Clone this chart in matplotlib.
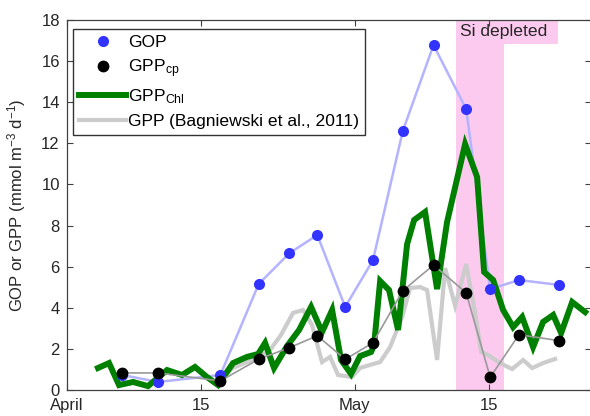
import matplotlib
matplotlib.use('Agg')
import matplotlib.pyplot as plt
from matplotlib.patches import Rectangle

plt.rcParams['font.family'] = ['Liberation Sans', 'DejaVu Sans']
plt.rcParams['mathtext.fontset'] = 'custom'
plt.rcParams['mathtext.rm'] = 'Liberation Sans'
plt.rcParams['mathtext.it'] = 'Liberation Sans:italic'

# days since 1 April
sample_days = [5.8, 9.5, 16.0, 20.0, 23.2, 26.1, 29.0, 31.9, 35.0, 38.2, 41.6, 44.1, 47.1, 51.3]
gop = [0.73, 0.39, 0.73, 5.16, 6.66, 7.54, 4.04, 6.32, 12.6, 16.78, 13.67, 4.91, 5.35, 5.11]
gpp_cp = [0.83, 0.83, 0.44, 1.50, 2.06, 2.64, 1.49, 2.30, 4.83, 6.08, 4.73, 0.62, 2.69, 2.40]

chl_days = [3.26, 4.41, 5.45, 6.91, 8.47, 10.45, 12.01, 13.36, 14.61, 15.76, 17.32, 18.78,
            19.93, 20.66, 21.59, 22.95, 24.20, 25.45, 26.59, 27.64, 28.57, 29.61, 30.55,
            31.70, 32.01, 32.64, 33.57, 34.51, 35.45, 36.18, 37.32, 38.57, 39.61, 41.49,
            42.74, 43.47, 44.41, 45.45, 46.49, 47.43, 48.57, 49.61, 50.66, 51.49, 52.64, 53.99]
gpp_chl = [1.07, 1.31, 0.24, 0.39, 0.19, 0.97, 0.73, 1.12, 0.63, 0.24, 1.31, 1.61,
           1.75, 2.29, 1.07, 2.14, 2.92, 4.04, 2.82, 3.89, 1.46, 0.78, 1.65,
           1.85, 2.19, 5.30, 4.86, 2.92, 7.10, 8.27, 8.66, 4.91, 8.17, 11.96,
           10.36, 5.74, 5.35, 3.89, 3.06, 3.55, 2.09, 3.31, 3.65, 2.77, 4.28, 3.79]

bag_days = [15.76, 17.32, 18.78, 19.93, 21.18, 22.32, 23.57, 24.61, 25.55, 26.59, 27.43,
            28.26, 29.72, 30.55, 31.59, 32.64, 33.68, 34.93, 35.76, 36.80, 37.53, 38.57,
            39.41, 40.45, 41.59, 42.43, 43.16, 43.89, 45.14, 46.39, 47.53, 48.47, 49.61, 50.86]
gpp_bag = [0.49, 1.07, 1.36, 1.56, 1.95, 2.68, 3.75, 3.89, 3.16, 1.36, 1.61,
           0.73, 0.63, 1.07, 1.22, 1.36, 2.09, 3.55, 4.96, 5.01, 4.86, 1.46,
           5.93, 4.09, 6.13, 4.04, 1.85, 1.70, 1.31, 1.02, 1.46, 1.07, 1.31, 1.51]

si_start, si_end = 40.5, 45.5
tick_days = [0, 14, 30, 44]
tick_labels = ['April', '15', 'May', '15']

pink = '#fdcaef'
txt = '#262626'

fig = plt.figure(figsize=(5.9, 4.16), dpi=100)
ax = fig.add_axes([66.7 / 590, 26 / 416, (591 - 66.7) / 590, 370 / 416])

ax.axvspan(si_start, si_end, color=pink, lw=0, zorder=0)

ax.plot(bag_days, gpp_bag, color='#cccccc', lw=3, solid_joinstyle='miter', zorder=1,
        label='GPP (Bagniewski et al., 2011)')
ax.plot(sample_days, gop, color='#b3b3ff', lw=1.8, zorder=2)
ax.plot(chl_days, gpp_chl, color='#008000', lw=4.3, solid_joinstyle='miter', zorder=3,
        label='GPP$_{\\rm Chl}$')
ax.plot(sample_days, gpp_cp, color='#999999', lw=1.2, zorder=3.5)
ax.plot(sample_days, gop, ls='none', marker='o', ms=8, mfc='#3333ff', mec='none', zorder=4,
        label='GOP')
ax.plot(sample_days, gpp_cp, ls='none', marker='o', ms=8.5, mfc='black', mec='none', zorder=5,
        label='GPP$_{\\rm cp}$')

# "Si depleted" tag at the top of the shaded period
ax.add_patch(Rectangle((si_start, 16.83), 51.2 - si_start, 18 - 16.83, facecolor=pink,
                       edgecolor='none', zorder=0.5))
ax.text(si_start + 0.5, 17.42, 'Si depleted', fontsize=12.6, color=txt, va='center', ha='left',
        zorder=6)

ax.set_xlim(0, 54.6)
ax.set_ylim(0, 18)
ax.set_yticks(range(0, 19, 2))
ax.set_xticks(tick_days)
ax.set_xticklabels(tick_labels)
ax.tick_params(direction='in', length=4, width=0.8, top=True, right=True, labelsize=12,
               colors='#404040', labelcolor=txt)
ax.tick_params(axis='y', pad=5)
ax.tick_params(axis='x', pad=6)
for s in ax.spines.values():
    s.set_color('#404040')
    s.set_linewidth(0.9)

ax.set_ylabel('GOP or GPP (mmol m$^{-3}$ d$^{-1}$)', fontsize=12, color=txt)
ax.yaxis.set_label_coords(-0.074, 0.5)

h, l = ax.get_legend_handles_labels()
order = [2, 3, 1, 0]
leg = ax.legend([h[i] for i in order], [l[i] for i in order], loc='upper left',
                bbox_to_anchor=(0.012, 0.976), fontsize=12.6, frameon=True, fancybox=False,
                edgecolor='black', handlelength=2.7, handletextpad=0.1, labelspacing=0.42,
                borderpad=0.35, borderaxespad=0)
leg.get_frame().set_linewidth(1.0)
leg.set_zorder(10)

plt.savefig('out.png', dpi=100)
